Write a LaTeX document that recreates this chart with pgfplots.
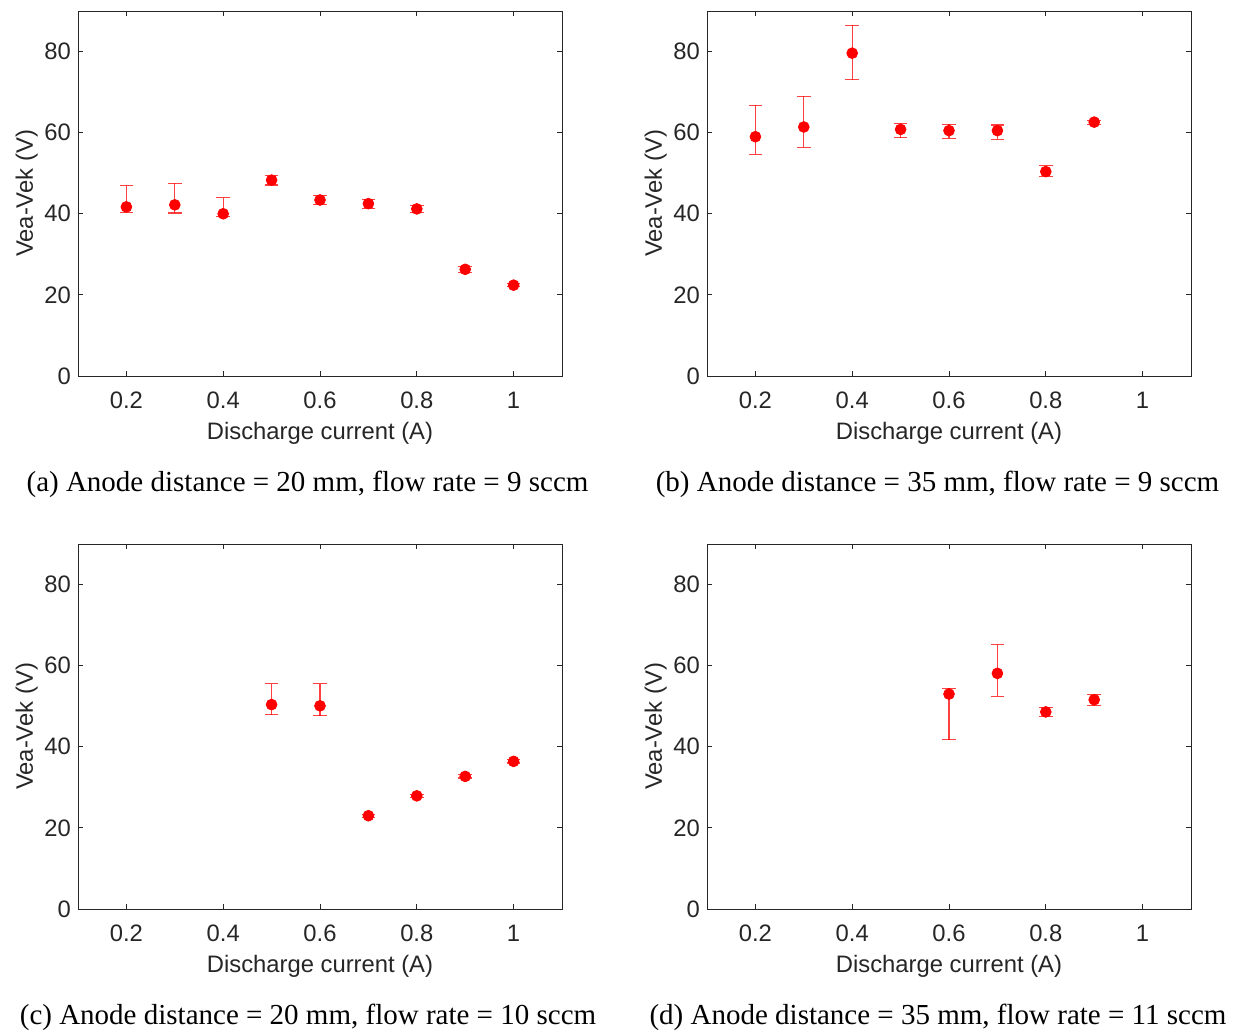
\documentclass[border=0pt]{standalone}
\usepackage{pgfplots}
\pgfplotsset{compat=1.18}
\usepackage{fontspec}
\setmainfont{Liberation Sans}
\newfontfamily\capfont{Liberation Serif}
\definecolor{axgray}{HTML}{262626}

\pgfplotsset{
  myax/.style={
    scale only axis, width=242pt, height=182.5pt,
    xmin=0.1, xmax=1.1, ymin=0, ymax=90,
    xtick={0.2,0.4,0.6,0.8,1}, ytick={0,20,40,60,80},
    tick align=inside, major tick length=2.5pt,
    axis line style={axgray, line width=0.4pt},
    tick style={axgray, line width=0.4pt},
    /pgf/number format/assume math mode=true,
    every tick label/.append style={font=\fontsize{11.9}{14}\selectfont, text=axgray},
    label style={font=\fontsize{11.9}{14}\selectfont, text=axgray},
    xticklabel shift=4.5pt,
    ylabel shift=-3.5pt,
    xlabel={Discharge current (A)}, ylabel={Vea-Vek (V)},
    anchor=south west,
  },
  mypl/.style={only marks, mark=*, mark size=2.7pt, color=red, mark options={fill=red, draw=red},
    error bars/.cd, y dir=both, y explicit,
    error mark options={rotate=90, mark size=3.4pt, line width=0.55pt, red, opacity=0.75},
    error bar style={line width=0.55pt, red, opacity=0.75}},
}

\begin{document}
\begin{tikzpicture}
\useasboundingbox (0,0) rectangle (616.5pt,517pt);

\begin{axis}[myax, at={(39pt,329pt)}]
\addplot[mypl] table[x=x,y=y,y error plus=ep,y error minus=em]{
x y ep em
0.2 41.7 5.2 1.4
0.3 42.2 5.3 2.0
0.4 40.0 4.0 0.7
0.5 48.3 1.2 1.2
0.6 43.4 1.0 1.2
0.7 42.5 1.0 1.1
0.8 41.2 0.8 0.9
0.9 26.3 0.7 0.7
1.0 22.4 0.4 0.4
};
\end{axis}

\begin{axis}[myax, at={(353.5pt,329pt)}]
\addplot[mypl] table[x=x,y=y,y error plus=ep,y error minus=em]{
x y ep em
0.2 59.0 7.7 4.3
0.3 61.4 7.6 5.0
0.4 79.6 6.9 6.5
0.5 60.8 1.5 2.0
0.6 60.5 1.6 1.9
0.7 60.5 1.4 2.1
0.8 50.4 1.5 1.2
0.9 62.6 0.5 0.5
};
\end{axis}

\begin{axis}[myax, at={(39pt,62.5pt)}]
\addplot[mypl] table[x=x,y=y,y error plus=ep,y error minus=em]{
x y ep em
0.5 50.4 5.1 2.5
0.6 50.1 5.4 2.4
0.7 23.0 0.4 0.4
0.8 27.9 0.4 0.4
0.9 32.7 0.4 0.4
1.0 36.4 0.4 0.4
};
\end{axis}

\begin{axis}[myax, at={(353.5pt,62.5pt)}]
\addplot[mypl] table[x=x,y=y,y error plus=ep,y error minus=em]{
x y ep em
0.6 53.0 1.4 11.3
0.7 58.1 7.1 5.7
0.8 48.6 1.0 1.1
0.9 51.6 1.3 1.5
};
\end{axis}

\node[font=\capfont\fontsize{14.5}{17}\selectfont] at (153.75pt,275pt) {(a) Anode distance = 20 mm, flow rate = 9 sccm};
\node[font=\capfont\fontsize{14.5}{17}\selectfont] at (468.75pt,275pt) {(b) Anode distance = 35 mm, flow rate = 9 sccm};
\node[font=\capfont\fontsize{14.5}{17}\selectfont] at (154pt,8.5pt) {(c) Anode distance = 20 mm, flow rate = 10 sccm};
\node[font=\capfont\fontsize{14.5}{17}\selectfont] at (469pt,8.5pt) {(d) Anode distance = 35 mm, flow rate = 11 sccm};
\end{tikzpicture}
\end{document}
